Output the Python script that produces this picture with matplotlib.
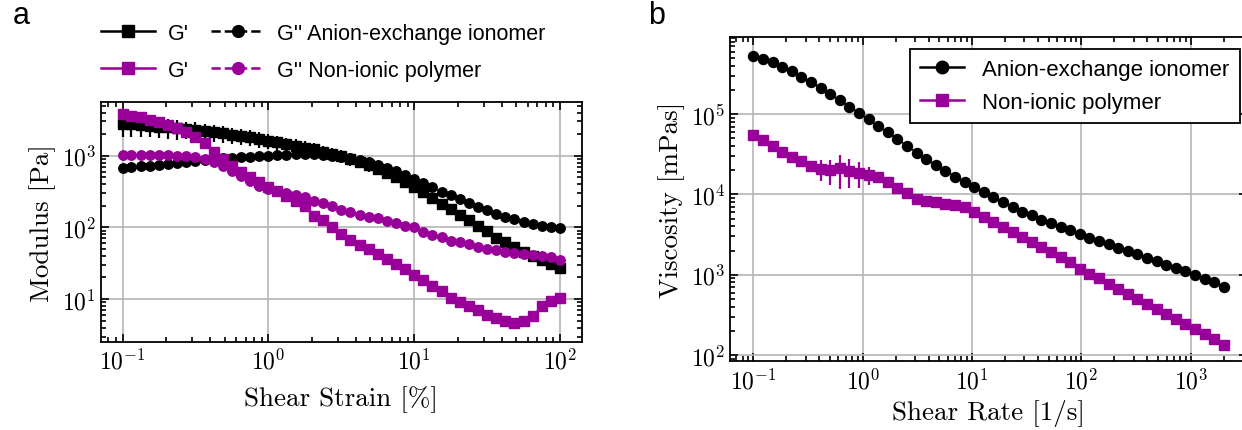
import numpy as np
import matplotlib
matplotlib.use("Agg")
import matplotlib.pyplot as plt
from matplotlib.ticker import LogLocator, FuncFormatter, NullFormatter
from matplotlib.lines import Line2D

plt.rcParams["mathtext.fontset"] = "cm"
plt.rcParams["font.family"] = ["Liberation Sans", "DejaVu Sans"]

BLACK = "black"
PURPLE = "#990099"

# ---- panel a: amplitude sweep (modulus vs strain) ----
strain = [0.1, 0.115, 0.133, 0.154, 0.178, 0.205, 0.237, 0.274, 0.316, 0.365, 0.422, 0.487,
          0.562, 0.649, 0.75, 0.866, 1.0, 1.15, 1.33, 1.54, 1.78, 2.05, 2.37, 2.74, 3.16,
          3.65, 4.22, 4.87, 5.62, 6.49, 7.5, 8.66, 10.0, 11.5, 13.3, 15.4, 17.8, 20.5, 23.7,
          27.4, 31.6, 36.5, 42.2, 48.7, 56.2, 64.9, 75.0, 86.6, 100.0]

g1_aei = [2770, 2750, 2680, 2620, 2540, 2480, 2400, 2340, 2280, 2200, 2110, 2040, 1960, 1900,
          1800, 1710, 1620, 1530, 1450, 1380, 1300, 1220, 1140, 1070, 1000, 900, 820, 740, 660,
          580, 510, 430, 361, 308, 254, 212, 180, 150, 125, 105, 88, 72, 62, 53, 46, 40, 35,
          31, 27.5]
g2_aei = [680, 695, 710, 725, 741, 765, 791, 825, 851, 880, 898, 918, 938, 948, 968, 979, 1000,
          1021, 1032, 1040, 1044, 1040, 1020, 985, 948, 920, 880, 820, 741, 680, 618, 545, 473,
          411, 362, 315, 283, 248, 216, 192, 173, 156, 141, 130, 119, 111, 105, 101, 97]
g1_non = [3810, 3610, 3425, 3180, 2920, 2680, 2405, 2160, 1800, 1487, 1137, 898, 710, 585, 499,
          425, 361, 325, 277, 235, 200, 146, 128, 100, 81, 67, 57, 50, 42, 36, 31, 26, 21.9,
          18.4, 15.4, 13.1, 10.5, 9.2, 8.1, 7.0, 6.0, 5.4, 5.0, 4.7, 4.9, 5.8, 7.9, 9.4, 10.2]
g2_non = [1010, 1010, 1010, 1010, 1010, 1010, 1000, 989, 968, 898, 807, 725, 618, 526, 448, 381,
          343, 325, 301, 283, 262, 236, 216, 196, 176, 162, 149, 141, 134, 123, 114, 106, 100,
          87, 78, 73, 65, 62, 58, 52.5, 50, 47.9, 45.9, 44, 43.1, 41.8, 40.4, 38.3, 35.6]

# relative standard deviations
g1_aei_rel = [0.35, 0.33, 0.32, 0.30, 0.30, 0.30, 0.30, 0.28, 0.28, 0.27, 0.27, 0.26, 0.26,
              0.25, 0.25, 0.25, 0.24, 0.24, 0.23, 0.23, 0.22, 0.22, 0.21, 0.21, 0.20, 0.20,
              0.19, 0.19, 0.18, 0.18, 0.17, 0.17, 0.16, 0.15, 0.14, 0.12, 0.10, 0.09, 0.08,
              0.07, 0.06, 0.06, 0.05, 0.05, 0.05, 0.05, 0.04, 0.04, 0.04]
g2_aei_rel = [0.03, 0.03, 0.03, 0.03, 0.03, 0.03, 0.04, 0.04, 0.05, 0.06, 0.07, 0.08, 0.09,
              0.10, 0.11, 0.12, 0.12, 0.12, 0.12, 0.12, 0.12, 0.12, 0.12, 0.12, 0.12, 0.12,
              0.12, 0.12, 0.12, 0.11, 0.10, 0.09, 0.08, 0.06, 0.05, 0.04, 0.04, 0.04, 0.03,
              0.03, 0.03, 0.03, 0.03, 0.03, 0.03, 0.03, 0.03, 0.03, 0.03]
g1_non_rel = [0.04, 0.04, 0.04, 0.04, 0.04, 0.05, 0.06, 0.08, 0.10, 0.12, 0.14, 0.15, 0.15,
              0.14, 0.12, 0.10, 0.08, 0.06, 0.05, 0.06, 0.08, 0.10, 0.10, 0.09, 0.08, 0.06,
              0.05, 0.05, 0.05, 0.05, 0.05, 0.05, 0.05, 0.05, 0.05, 0.05, 0.05, 0.06, 0.07,
              0.08, 0.10, 0.12, 0.14, 0.15, 0.14, 0.10, 0.06, 0.05, 0.05]
g2_non_rel = [0.03, 0.03, 0.03, 0.03, 0.03, 0.03, 0.03, 0.04, 0.05, 0.08, 0.09, 0.09, 0.08,
              0.06, 0.04, 0.03, 0.03, 0.03, 0.03, 0.03, 0.03, 0.03, 0.03, 0.03, 0.03, 0.03,
              0.03, 0.03, 0.03, 0.03, 0.03, 0.03, 0.03, 0.03, 0.03, 0.03, 0.03, 0.03, 0.03,
              0.03, 0.03, 0.03, 0.03, 0.03, 0.03, 0.03, 0.03, 0.03, 0.03]

# ---- panel b: flow curve (viscosity vs shear rate) ----
rate = [0.1, 0.1224, 0.1498, 0.1834, 0.2245, 0.2748, 0.3363, 0.4117, 0.5039, 0.6168, 0.7551,
        0.9243, 1.131, 1.385, 1.695, 2.075, 2.540, 3.109, 3.806, 4.659, 5.702, 6.980, 8.545,
        10.46, 12.80, 15.67, 19.18, 23.48, 28.74, 35.18, 43.06, 52.71, 64.52, 78.98, 96.65,
        118.3, 144.8, 177.3, 217.0, 265.6, 325.1, 398.0, 487.2, 596.3, 729.9, 893.5, 1094,
        1339, 1639, 2005]
visc_aei = [5.35e5, 4.85e5, 4.42e5, 3.89e5, 3.47e5, 2.95e5, 2.52e5, 2.14e5, 1.77e5, 1.49e5,
            1.24e5, 1.04e5, 8.6e4, 7.08e4, 5.96e4, 4.9e4, 4.04e4, 3.33e4, 2.75e4, 2.34e4,
            1.98e4, 1.67e4, 1.44e4, 1.25e4, 1.08e4, 9350, 8100, 7000, 6070, 5520, 4870, 4420,
            3940, 3580, 3180, 2890, 2620, 2390, 2170, 1970, 1790, 1620, 1470, 1340, 1220, 1100,
            1000, 885, 800, 710]
visc_non = [5.56e4, 4.82e4, 3.97e4, 3.43e4, 2.97e4, 2.65e4, 2.29e4, 2.08e4, 2.02e4, 2.12e4,
            1.98e4, 1.87e4, 1.75e4, 1.67e4, 1.44e4, 1.19e4, 1.03e4, 8900, 8300, 8100, 7700,
            7360, 7000, 6070, 5250, 4540, 3930, 3400, 2950, 2550, 2210, 1910, 1650, 1430, 1180,
            1020, 912, 767, 664, 574, 497, 430, 372, 322, 279, 241, 209, 181, 156, 135]
visc_aei_rel = [0.04, 0.04, 0.04, 0.05, 0.05, 0.06, 0.07, 0.08, 0.09, 0.10, 0.10, 0.10, 0.10,
                0.10, 0.09, 0.08, 0.08, 0.07, 0.06, 0.05, 0.04, 0.04, 0.03, 0.03, 0.03, 0.03,
                0.03, 0.03, 0.03, 0.03, 0.03, 0.03, 0.03, 0.03, 0.03, 0.03, 0.03, 0.03, 0.03,
                0.03, 0.03, 0.03, 0.03, 0.03, 0.03, 0.03, 0.03, 0.03, 0.03, 0.03]
visc_non_rel = [0.15, 0.15, 0.14, 0.13, 0.12, 0.12, 0.15, 0.30, 0.35, 0.45, 0.40, 0.35, 0.25,
                0.12, 0.08, 0.06, 0.05, 0.04, 0.04, 0.04, 0.03, 0.03, 0.03, 0.03, 0.03, 0.03,
                0.03, 0.03, 0.03, 0.03, 0.03, 0.03, 0.03, 0.03, 0.03, 0.03, 0.03, 0.03, 0.03,
                0.03, 0.03, 0.03, 0.03, 0.03, 0.03, 0.03, 0.03, 0.03, 0.03, 0.03]


def decade_label(v, pos):
    return r"$10^{%d}$" % int(round(np.log10(v)))


def style_log_axes(ax):
    ax.set_xscale("log")
    ax.set_yscale("log")
    for axis in (ax.xaxis, ax.yaxis):
        axis.set_major_locator(LogLocator(base=10, numticks=20))
        axis.set_minor_locator(LogLocator(base=10, subs=np.arange(2, 10), numticks=20))
        axis.set_major_formatter(FuncFormatter(decade_label))
        axis.set_minor_formatter(NullFormatter())
    ax.tick_params(which="both", direction="in", top=True, right=True, labelsize=17,
                   width=1.2, colors="black")
    ax.tick_params(which="major", length=6)
    ax.tick_params(which="minor", length=3.5)
    ax.tick_params(axis="x", pad=5)
    ax.grid(True, which="major", color="#b5b5b5", linewidth=1.2)
    ax.set_axisbelow(True)
    for sp in ax.spines.values():
        sp.set_linewidth(1.3)


fig = plt.figure(figsize=(12.42, 4.31), dpi=100)

# panel a
ax1 = fig.add_axes([0.0811, 0.2049, 0.3873, 0.5555])
series_a = [
    (g1_aei, g1_aei_rel, BLACK, "s", "-"),
    (g2_aei, g2_aei_rel, BLACK, "o", "--"),
    (g1_non, g1_non_rel, PURPLE, "s", "-"),
    (g2_non, g2_non_rel, PURPLE, "o", "--"),
]
for vals, rel, col, mk, ls in series_a:
    vals = np.array(vals)
    ax1.errorbar(strain, vals, yerr=vals * np.array(rel), color=col, marker=mk, ms=6.8,
                 ls=ls, lw=1.2, elinewidth=1.6, capsize=0)
style_log_axes(ax1)
ax1.set_xlim(0.0708, 141)
ax1.set_ylim(2.54, 5560)
ax1.set_xlabel("Shear Strain [%]", fontfamily="cmr10", fontsize=19.5, labelpad=8)
ax1.set_ylabel("Modulus [Pa]", fontfamily="cmr10", fontsize=19.5)

handles = [
    Line2D([], [], color=BLACK, marker="s", ms=8.5, lw=1.8, ls="-"),
    Line2D([], [], color=PURPLE, marker="s", ms=8.5, lw=1.8, ls="-"),
    Line2D([], [], color=BLACK, marker="o", ms=8.5, lw=1.8, ls="--"),
    Line2D([], [], color=PURPLE, marker="o", ms=8.5, lw=1.8, ls="--"),
]
labels = ["G'", "G'", "G'' Anion-exchange ionomer", "G'' Non-ionic polymer"]
fig.legend(handles, labels, loc="upper left", bbox_to_anchor=(0.066, 0.99), ncol=2,
           frameon=False, fontsize=15.5, handlelength=2.5, handletextpad=0.6,
           columnspacing=1.0, labelspacing=0.75)

# panel b
ax2 = fig.add_axes([0.5878, 0.16, 0.4163, 0.7512])
ax2.errorbar(rate, visc_aei, yerr=np.array(visc_aei) * np.array(visc_aei_rel), color=BLACK,
             marker="o", ms=7.2, lw=1.2, elinewidth=1.6, capsize=0)
ax2.errorbar(rate, visc_non, yerr=np.array(visc_non) * np.array(visc_non_rel), color=PURPLE,
             marker="s", ms=6.8, lw=1.2, elinewidth=1.6, capsize=0)
style_log_axes(ax2)
ax2.set_xlim(0.0612, 3270)
ax2.set_ylim(84, 9.1e5)
ax2.set_xlabel("Shear Rate [1/s]", fontfamily="cmr10", fontsize=19.5, labelpad=4)
ax2.set_ylabel("Viscosity [mPas]", fontfamily="cmr10", fontsize=19.5)
handles_b = [
    Line2D([], [], color=BLACK, marker="o", ms=9, lw=1.8),
    Line2D([], [], color=PURPLE, marker="s", ms=9, lw=1.8),
]
leg = ax2.legend(handles_b, ["Anion-exchange ionomer", "Non-ionic polymer"],
                 loc="upper right", bbox_to_anchor=(0.998, 0.885),
                 bbox_transform=fig.transFigure, borderaxespad=0, fontsize=16,
                 fancybox=False, framealpha=1, edgecolor="black", handlelength=2.0,
                 borderpad=0.45, labelspacing=0.55)
leg.get_frame().set_linewidth(1.3)

fig.text(0.010, 0.945, "a", fontsize=22)
fig.text(0.522, 0.945, "b", fontsize=22)

fig.savefig("out.png", dpi=100)
plt.close()
